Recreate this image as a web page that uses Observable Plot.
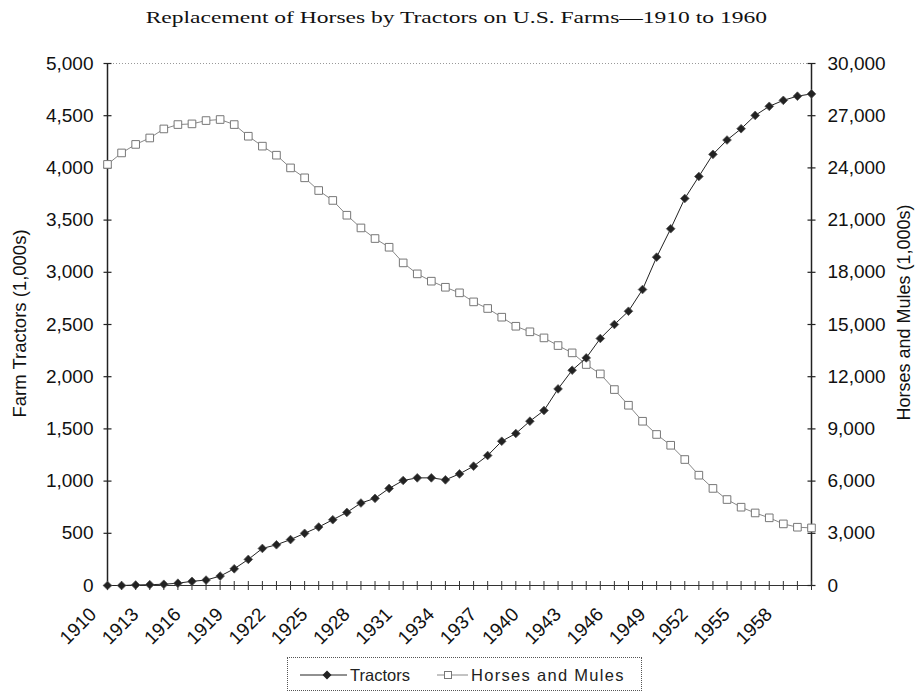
<!DOCTYPE html>
<html>
<head>
<meta charset="utf-8">
<script src="https://cdn.jsdelivr.net/npm/d3@7"></script>
<script src="https://cdn.jsdelivr.net/npm/@observablehq/plot@0.6"></script>
<style>
  body { margin: 0; background: #fff; }
  #wrap { position: relative; width: 915px; height: 694px; overflow: hidden; background: #fff; }
  #title { position: absolute; left: 0; top: 9px; width: 915px; text-align: center;
           font-family: "Liberation Serif", "Times New Roman", serif; font-size: 16px;
           color: #111; white-space: nowrap; }
  #title span { display: inline-block; transform: scaleX(1.47); transform-origin: 50% 50%; margin-left: -3px; }
  #legend { position: absolute; left: 287px; top: 657px; width: 355px; height: 34px;
            border: 1px dotted #555; box-sizing: border-box;
            font-family: "Liberation Sans", Arial, sans-serif; font-size: 16.5px; color: #222; }
  #legend .item { position: absolute; top: 0; height: 34px; display: flex; align-items: center; }
  #legend svg { display: block; }
  #chart { position: absolute; left: 0; top: 0; }
</style>
</head>
<body>
<div id="wrap">
  <div id="chart"></div>
  <div id="title"><span>Replacement of Horses by Tractors on U.S. Farms—1910 to 1960</span></div>
  <div id="legend">
    <div class="item" style="left:12px">
      <svg width="47" height="12"><line x1="0" y1="6" x2="47" y2="6" stroke="#222" stroke-width="1"/>
        <path d="M27,1.5 L31.5,6 L27,10.5 L22.5,6 Z" fill="#222"/></svg>
      <span style="margin-left:3px">Tractors</span>
    </div>
    <div class="item" style="left:149px">
      <svg width="31" height="12"><line x1="0" y1="6" x2="31" y2="6" stroke="#888" stroke-width="1"/>
        <rect x="7.5" y="2.5" width="7" height="7" fill="#fff" stroke="#777"/></svg>
      <span style="margin-left:3px; letter-spacing:1.3px">Horses and Mules</span>
    </div>
  </div>
</div>
<script>
// ---- data ----
const years = [1910,1911,1912,1913,1914,1915,1916,1917,1918,1919,
               1920,1921,1922,1923,1924,1925,1926,1927,1928,1929,
               1930,1931,1932,1933,1934,1935,1936,1937,1938,1939,
               1940,1941,1942,1943,1944,1945,1946,1947,1948,1949,
               1950,1951,1952,1953,1954,1955,1956,1957,1958,1959,1960];
const tractors = [0,0,5,8,12,22,40,52,90,160,
                  250,355,390,440,500,560,630,700,790,835,
                  930,1006,1031,1031,1012,1069,1143,1245,1382,1456,
                  1574,1676,1883,2062,2180,2366,2500,2627,2835,3145,
                  3417,3707,3918,4130,4267,4375,4503,4590,4647,4687,4709];
const horsesMules = [24200,24860,25350,25720,26240,26490,26530,26720,26780,26490,
                     25820,25250,24730,24000,23430,22700,22130,21280,20550,19940,
                     19440,18540,17910,17490,17140,16820,16300,15920,15420,14900,
                     14580,14230,13790,13370,12700,12160,11260,10360,9440,8680,
                     8060,7240,6340,5580,4940,4500,4170,3890,3540,3350,3310];
const leftTicks = [0,500,1000,1500,2000,2500,3000,3500,4000,4500,5000];
const rightTicks = [0,3000,6000,9000,12000,15000,18000,21000,24000,27000,30000];
const xLabels = [1910,1913,1916,1919,1922,1925,1928,1931,1934,1937,1940,1943,1946,1949,1952,1955,1958];
const leftTitle = "Farm Tractors (1,000s)";
const rightTitle = "Horses and Mules (1,000s)";

const rows = years.map((y, i) => ({year: y, tractors: tractors[i], horses: horsesMules[i]}));
const ratio = 30000 / 5000;

const hline = {draw(ctx, size) { const r = Math.sqrt(size / Math.PI); ctx.moveTo(-r, 0); ctx.lineTo(r, 0); }};
const vline = {draw(ctx, size) { const r = Math.sqrt(size / Math.PI); ctx.moveTo(0, -r); ctx.lineTo(0, r); }};
const fmt = d3.format(",");

const chart = Plot.plot({
  width: 915, height: 694,
  marginLeft: 107, marginRight: 104, marginTop: 63, marginBottom: 109,
  x: {domain: [1910, 1960], axis: null},
  y: {domain: [0, 5000], axis: null},
  style: {fontFamily: "'Liberation Sans', Arial, sans-serif", fontSize: "19px", color: "#111", background: "transparent", overflow: "visible"},
  marks: [
    Plot.ruleY([5000], {stroke: "#999", strokeDasharray: "1,2"}),
    Plot.ruleY([0], {stroke: "#333", strokeWidth: 1}),
    Plot.ruleX([1910], {stroke: "#222", strokeWidth: 1.5}),
    Plot.ruleX([1960], {stroke: "#222", strokeWidth: 1.5}),
    // tick marks
    Plot.dot(leftTicks, {frameAnchor: "left", y: d => d, symbol: hline, r: 4, fill: "none", stroke: "#222", strokeWidth: 1.2}),
    Plot.dot(rightTicks, {frameAnchor: "right", y: d => d / ratio, symbol: hline, r: 4, fill: "none", stroke: "#222", strokeWidth: 1.2}),
    Plot.dot(years, {x: d => d, frameAnchor: "bottom", symbol: vline, r: 4.5, fill: "none", stroke: "#333", strokeWidth: 1}),
    // tick labels
    Plot.text(leftTicks, {frameAnchor: "left", y: d => d, text: d => fmt(d), textAnchor: "end", dx: -14, fill: "#111"}),
    Plot.text(rightTicks, {frameAnchor: "right", y: d => d / ratio, text: d => fmt(d), textAnchor: "start", dx: 16, fill: "#111"}),
    Plot.text(xLabels, {x: d => d, frameAnchor: "bottom", text: d => String(d), rotate: -45, textAnchor: "end", dx: -10, dy: 30, fill: "#111"}),
    // axis titles
    Plot.text([leftTitle], {frameAnchor: "left", text: d => d, rotate: -90, textAnchor: "middle", dx: -87, dy: -1, fontSize: 18.5, fill: "#111"}),
    Plot.text([rightTitle], {frameAnchor: "right", text: d => d, rotate: -90, textAnchor: "middle", dx: 93, dy: -12, fontSize: 18, fill: "#111"}),
    // horses and mules (right axis, scaled)
    Plot.line(rows, {x: "year", y: d => d.horses / ratio, stroke: "#888", strokeWidth: 1}),
    Plot.dot(rows, {x: "year", y: d => d.horses / ratio, symbol: "square", r: 4.3, fill: "#fff", stroke: "#777", strokeWidth: 1}),
    // tractors
    Plot.line(rows, {x: "year", y: "tractors", stroke: "#222", strokeWidth: 1}),
    Plot.dot(rows, {x: "year", y: "tractors", symbol: "diamond2", r: 3.9, fill: "#222", stroke: "#555", strokeWidth: 0.8})
  ]
});
document.getElementById("chart").appendChild(chart);
</script>
</body>
</html>
